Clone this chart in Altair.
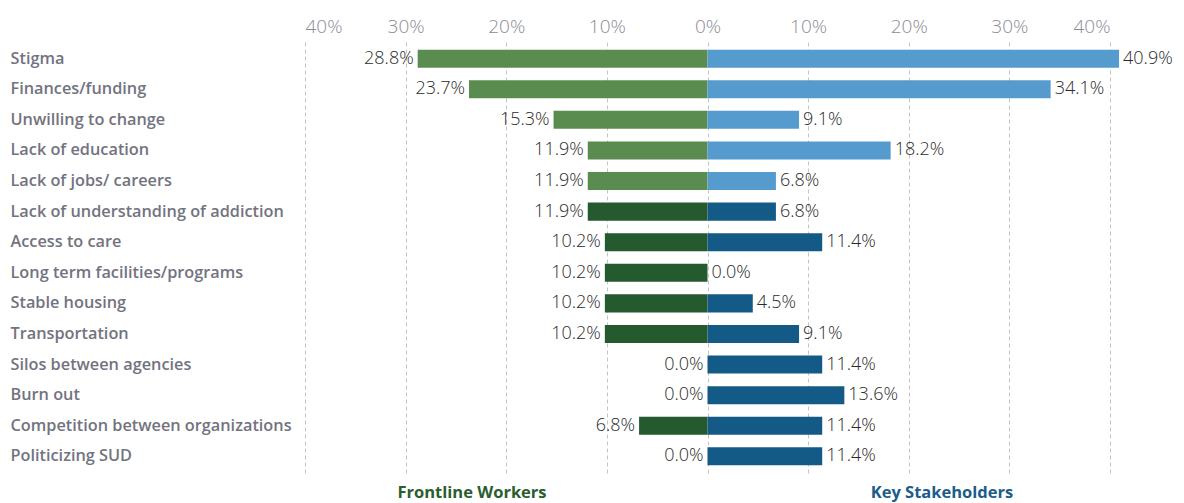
import altair as alt
import pandas as pd

categories = [
    "Stigma", "Finances/funding", "Unwilling to change", "Lack of education",
    "Lack of jobs/ careers", "Lack of understanding of addiction", "Access to care",
    "Long term facilities/programs", "Stable housing", "Transportation",
    "Silos between agencies", "Burn out", "Competition between organizations",
    "Politicizing SUD",
]
frontline = [28.8, 23.7, 15.3, 11.9, 11.9, 11.9, 10.2, 10.2, 10.2, 10.2, 0.0, 0.0, 6.8, 0.0]
stakeholders = [40.9, 34.1, 9.1, 18.2, 6.8, 6.8, 11.4, 0.0, 4.5, 9.1, 11.4, 13.6, 11.4, 11.4]
highlighted = [True, True, True, True, True, False, False, False, False, False, False, False, False, False]
group_names = ["Frontline Workers", "Key Stakeholders"]
group_title_pos = [-23.4, 23.3]
tick_values = [-40, -30, -20, -10, 0, 10, 20, 30, 40]

shade_domain = ["FW-light", "FW-dark", "KS-light", "KS-dark"]
shade_range = ["#5b8c4f", "#25592e", "#569bcd", "#145a86"]

rows = []
for i, c in enumerate(categories):
    tone = "light" if highlighted[i] else "dark"
    rows.append({"cat": c, "value": frontline[i], "pos": -frontline[i],
                 "shade": f"FW-{tone}", "label": f"{frontline[i]:.1f}%", "side": "L"})
    rows.append({"cat": c, "value": stakeholders[i], "pos": stakeholders[i],
                 "shade": f"KS-{tone}", "label": f"{stakeholders[i]:.1f}%", "side": "R"})
df = pd.DataFrame(rows)

titles = pd.DataFrame({"name": group_names, "pos": group_title_pos,
                       "color": ["#2a5e2f", "#1b5c8b"]})

PLOT_W = 805
PLOT_H = 431
FONT = "Open Sans"

x_scale = alt.Scale(domain=[-40, 40], nice=False)
y_enc = alt.Y("cat:N", sort=categories, title=None,
              scale=alt.Scale(paddingInner=0.41, paddingOuter=0.25),
              axis=alt.Axis(labelAlign="left", labelPadding=295, ticks=False, domain=False,
                            grid=False, labelFontSize=16.3, labelFontWeight=600,
                            labelColor="#737380", labelFont=FONT, labelLimit=320))

base = alt.Chart(df)

bars = base.mark_bar().encode(
    x=alt.X("pos:Q", scale=x_scale, title=None,
            axis=alt.Axis(orient="top", values=tick_values,
                          labelExpr="abs(datum.value) + '%'",
                          grid=True, gridDash=[4, 3], gridColor="#c4c4c4",
                          domain=False, ticks=False, labelPadding=6,
                          labelFontSize=19, labelColor="#8c8c96", labelFont=FONT,
                          labelFontWeight=300)),
    x2=alt.datum(0),
    y=y_enc,
    color=alt.Color("shade:N", scale=alt.Scale(domain=shade_domain, range=shade_range),
                    legend=None),
)

left_text = base.transform_filter("datum.side == 'L'").mark_text(
    align="right", dx=-4, fontSize=18, font=FONT, fontWeight=300, color="#2b2b2b"
).encode(x=alt.X("pos:Q", scale=x_scale), y=alt.Y("cat:N", sort=categories), text="label:N")

right_text = base.transform_filter("datum.side == 'R'").mark_text(
    align="left", dx=4, fontSize=18, font=FONT, fontWeight=300, color="#2b2b2b"
).encode(x=alt.X("pos:Q", scale=x_scale), y=alt.Y("cat:N", sort=categories), text="label:N")

title_text = alt.Chart(titles).mark_text(
    fontSize=16.5, fontWeight="bold", font=FONT, baseline="middle"
).encode(
    x=alt.X("pos:Q", scale=x_scale),
    y=alt.value(PLOT_H + 20),
    text="name:N",
    color=alt.Color("color:N", scale=None),
)

chart = alt.layer(bars, left_text, right_text, title_text).properties(
    width=PLOT_W, height=PLOT_H,
    padding={"left": 2, "top": 9, "right": 0, "bottom": 0},
).configure_view(stroke=None)

chart.save("out.html", embed_options={"renderer": "svg", "actions": False})
